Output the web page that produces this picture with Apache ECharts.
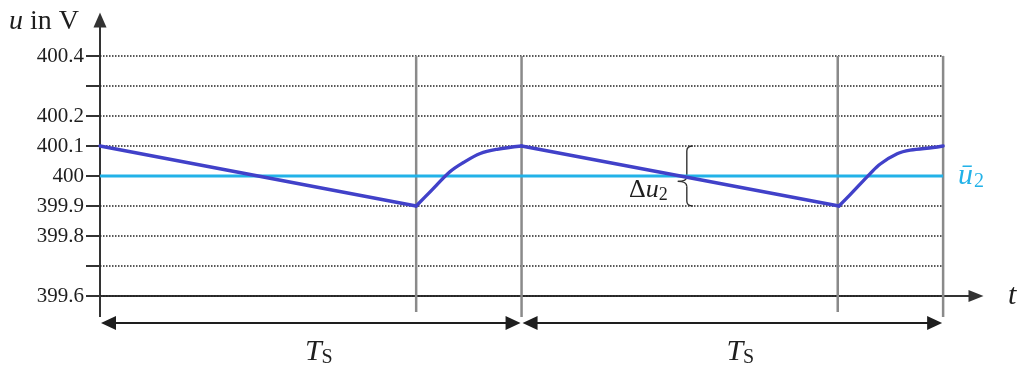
<!DOCTYPE html>
<html>
<head>
<meta charset="utf-8">
<script src="https://cdn.jsdelivr.net/npm/echarts@6/dist/echarts.min.js"></script>
<style>
  html, body { margin: 0; padding: 0; background: #ffffff; }
  #chart { width: 1023px; height: 369px; }
</style>
</head>
<body>
<div id="chart"></div>
<script>
// Output voltage ripple over two switching periods (time in units of T_S, voltage in V)
const voltageTime = [0, 0.75, 0.783, 0.83, 0.861, 0.902, 0.942, 1,
                     1.753, 1.779, 1.827, 1.851, 1.891, 1.922, 1.976, 2];
const voltageValue = [400.1, 399.9, 399.947, 400.014, 400.044, 400.075, 400.089, 400.1,
                      399.9, 399.937, 400.008, 400.040, 400.074, 400.086, 400.095, 400.1];
const meanTime = [0, 2];
const meanValue = [400, 400];
const periods = [[0, 1], [1, 2]];
const periodMarks = [0, 0.75, 1, 1.75, 2];
const rippleRange = [399.9, 400.1];
const yTicks = [399.6, 399.7, 399.8, 399.9, 400, 400.1, 400.2, 400.3, 400.4];
const yLabels = [399.6, 399.8, 399.9, 400, 400.1, 400.2, 400.4];

const serif = 'Liberation Serif, Times New Roman, serif';
const ink = '#1e1e1e';
const axisInk = '#333333';
const curveBlue = '#4141c9';
const meanCyan = '#22b2e8';
const yMin = 399.6, yTop = 400.4, tEnd = 2;
const braceTime = 1.392;

function seg(p0, p1, style) {
  return { type: 'line', shape: { x1: p0[0], y1: p0[1], x2: p1[0], y2: p1[1] }, style: style };
}

// Split the voltage trace into linear discharge ramps and smooth recovery arcs:
// a ramp runs from a peak (value at the upper ripple bound) to the next trough.
const points = voltageTime.map((t, i) => [t, voltageValue[i]]);
const rampSegments = [];
const recoverySegments = [];
let current = [points[0]];
let falling = true;
for (let i = 1; i < points.length; i++) {
  const p = points[i];
  if (falling) {
    current.push(p);
    if (p[1] === rippleRange[0]) { rampSegments.push(current); current = [p]; falling = false; }
  } else if (points[i - 1][1] === rippleRange[1]) {
    // previous point closed a recovery arc; this point ends the next ramp
    current = [points[i - 1], p];
    if (p[1] === rippleRange[0]) { rampSegments.push(current); current = [p]; }
    else falling = true;
  } else {
    current.push(p);
    if (p[1] === rippleRange[1]) { recoverySegments.push(current); current = [p]; falling = true; }
  }
}

const traceSeries = [];
rampSegments.forEach(d => traceSeries.push({
  type: 'line', z: 5, showSymbol: false, silent: true, data: d,
  lineStyle: { color: curveBlue, width: 3.4, join: 'round', cap: 'round' }
}));
recoverySegments.forEach(d => traceSeries.push({
  type: 'line', z: 5, showSymbol: false, silent: true, data: d, smooth: 0.35,
  lineStyle: { color: curveBlue, width: 3.4, join: 'round', cap: 'round' }
}));

const chart = echarts.init(document.getElementById('chart'), null, { renderer: 'canvas' });

chart.setOption({
  animation: false,
  backgroundColor: '#ffffff',
  title: {
    text: '{i|u} in V',
    left: 9, top: 8, padding: 0,
    textStyle: {
      fontFamily: serif, fontSize: 28, fontWeight: 'normal', color: ink,
      rich: { i: { fontFamily: serif, fontStyle: 'italic', fontSize: 28, color: ink } }
    }
  },
  grid: { left: 100, right: 47, top: 20, bottom: 73 },
  xAxis: {
    type: 'value', min: 0, max: 2.078,
    axisLine: { show: true, symbol: ['none', 'triangle'], symbolSize: [12, 15],
                lineStyle: { color: axisInk, width: 2 } },
    axisTick: { show: false }, axisLabel: { show: false }, splitLine: { show: false },
    name: 't', nameLocation: 'end', nameGap: 32,
    nameTextStyle: { fontFamily: serif, fontStyle: 'italic', fontSize: 30, color: ink, padding: [8, 0, 0, 0] }
  },
  yAxis: {
    type: 'value', min: yMin, max: 400.52,
    axisLine: { show: true, symbol: ['none', 'triangle'], symbolSize: [13, 15],
                lineStyle: { color: axisInk, width: 2 } },
    axisTick: { show: true, customValues: yTicks, length: 14, lineStyle: { color: axisInk, width: 2 } },
    axisLabel: { show: true, customValues: yLabels, margin: 16, fontFamily: serif, fontSize: 21, color: ink,
                 formatter: v => String(v) },
    splitLine: { show: false }
  },
  series: [
    {
      // dotted horizontal guides at every 0.1 V
      type: 'custom', silent: true, z: 1,
      data: yTicks.map(v => [0, v]),
      renderItem: (params, api) => {
        const v = api.value(1);
        return seg(api.coord([0, v]), api.coord([tEnd, v]),
                   { stroke: '#222222', lineWidth: 1.6, lineDash: [1.5, 1.5] });
      }
    },
    {
      // period boundaries and switching instants
      type: 'custom', silent: true, z: 2,
      data: periodMarks.map(t => [t, yTop]),
      renderItem: (params, api) => {
        const t = api.value(0);
        const top = api.coord([t, yTop]);
        const base = api.coord([t, yMin]);
        const ext = Number.isInteger(t) ? 21 : 16;
        if (t === 0) {
          return seg(base, [base[0], base[1] + ext], { stroke: axisInk, lineWidth: 2 });
        }
        return seg(top, [base[0], base[1] + ext], { stroke: '#8a8a8a', lineWidth: 2.5 });
      }
    },
    {
      // period length arrows with T_S labels
      type: 'custom', silent: true, z: 2,
      data: periods,
      renderItem: (params, api) => {
        const a = api.coord([api.value(0), yMin]);
        const b = api.coord([api.value(1), yMin]);
        const y = a[1] + 27;
        const x0 = a[0] + 1, x1 = b[0] - 1;
        const st = { fill: ink };
        return {
          type: 'group',
          children: [
            seg([x0 + 10, y], [x1 - 10, y], { stroke: ink, lineWidth: 2 }),
            { type: 'polygon', shape: { points: [[x0, y], [x0 + 15, y - 7], [x0 + 15, y + 7]] }, style: st },
            { type: 'polygon', shape: { points: [[x1, y], [x1 - 15, y - 7], [x1 - 15, y + 7]] }, style: st },
            {
              type: 'text', x: (x0 + x1) / 2 + 8, y: y + 29,
              style: {
                text: '{t|T}{s|S}', align: 'center', verticalAlign: 'middle',
                rich: {
                  t: { fontFamily: serif, fontStyle: 'italic', fontSize: 30, fill: ink },
                  s: { fontFamily: serif, fontSize: 20, fill: ink, padding: [12, 0, 0, 0] }
                }
              }
            }
          ]
        };
      }
    },
    {
      // brace marking the peak-to-peak ripple
      type: 'custom', silent: true, z: 3,
      data: [[braceTime, rippleRange[1], rippleRange[0]]],
      renderItem: (params, api) => {
        const p0 = api.coord([api.value(0), api.value(1)]);
        const p1 = api.coord([api.value(0), api.value(2)]);
        const x = p0[0], y0 = p0[1], y1 = p1[1];
        const ym = y0 + 0.59 * (y1 - y0);
        const w = 6, c = 9, r = 5;
        const st = { stroke: '#333333', lineWidth: 1.4, fill: null };
        const q = (xa, ya, cx, cy, xb, yb) =>
          ({ type: 'bezierCurve', shape: { x1: xa, y1: ya, cpx1: cx, cpy1: cy, x2: xb, y2: yb }, style: st });
        return {
          type: 'group',
          children: [
            q(x + w, y0, x, y0, x, y0 + r),
            seg([x, y0 + r], [x, ym - r], st),
            q(x, ym - r, x, ym, x - c, ym),
            q(x - c, ym, x, ym, x, ym + r),
            seg([x, ym + r], [x, y1 - r], st),
            q(x, y1 - r, x, y1, x + w, y1),
            {
              type: 'text', x: x - c - 10, y: ym + 9,
              style: {
                text: 'Δ{u|u}{s|2}', align: 'right', verticalAlign: 'middle',
                fontFamily: serif, fontSize: 26, fill: ink,
                rich: {
                  u: { fontFamily: serif, fontStyle: 'italic', fontSize: 26, fill: ink },
                  s: { fontFamily: serif, fontSize: 18, fill: ink, padding: [10, 0, 0, 0] }
                }
              }
            }
          ]
        };
      }
    },
    {
      // mean output voltage
      type: 'line', z: 4, showSymbol: false, silent: true,
      data: meanTime.map((t, i) => [t, meanValue[i]]),
      lineStyle: { color: meanCyan, width: 3 },
      endLabel: {
        show: true, distance: 15,
        formatter: '{u|ū}{s|2}',
        rich: {
          u: { fontFamily: serif, fontStyle: 'italic', fontSize: 30, color: meanCyan },
          s: { fontFamily: serif, fontSize: 20, color: meanCyan, padding: [12, 0, 0, 1] }
        }
      }
    }
  ].concat(traceSeries)
});
</script>
</body>
</html>
